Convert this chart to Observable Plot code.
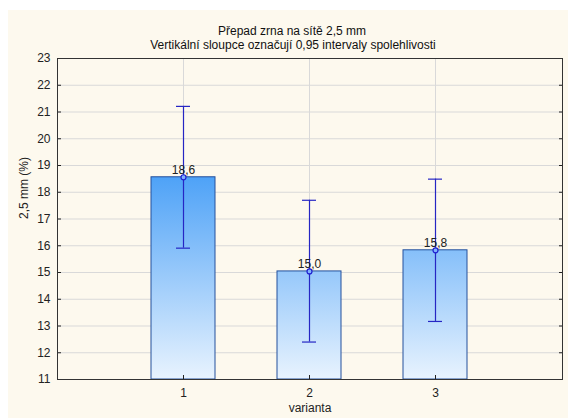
<!DOCTYPE html>
<html>
<head>
<meta charset="utf-8">
<script src="https://cdn.jsdelivr.net/npm/d3@7"></script>
<script src="https://cdn.jsdelivr.net/npm/@observablehq/plot@0.6"></script>
<style>
  html, body { margin: 0; padding: 0; background: #ffffff; }
  #wrap { position: absolute; left: 8px; top: 10px; width: 560px; height: 408px; background: #fdf9ee; }
  svg { font-family: "Liberation Sans", Arial, sans-serif; }
</style>
</head>
<body>
<div id="wrap"></div>
<script>
const categories = [1, 2, 3];
const means = [18.56, 15.04, 15.83];
const ciLow = [15.91, 12.40, 13.17];
const ciHigh = [21.21, 17.70, 18.49];
const yTicks = [11, 12, 13, 14, 15, 16, 17, 18, 19, 20, 21, 22, 23];
const titleText = "Přepad zrna na sítě 2,5 mm";
const subtitleText = "Vertikální sloupce označují 0,95 intervaly spolehlivosti";
const yLabel = "2,5 mm (%)";
const xLabel = "varianta";

const data = categories.map((c, i) => ({
  cat: c, mean: means[i], lo: ciLow[i], hi: ciHigh[i], base: yTicks[0]
}));
const fmt = v => d3.format(".1f")(v).replace(".", ",");

const axisColor = "#222";
const errColor = "#2626c4";
const fs = 12;

const plot = Plot.plot({
  width: 560,
  height: 408,
  marginLeft: 49,
  marginRight: 6,
  marginTop: 48,
  marginBottom: 39,
  style: { background: "transparent", fontFamily: "'Liberation Sans', Arial, sans-serif", fontSize: fs + "px", color: "#222" },
  x: { type: "band", domain: categories, paddingInner: 0.49, paddingOuter: 0.745, label: null },
  y: { domain: [yTicks[0], yTicks[yTicks.length - 1]], ticks: yTicks, label: null },
  marks: [
    Plot.gridY(yTicks, { stroke: "#d9d9d9", strokeOpacity: 1 }),
    Plot.gridX(categories, { stroke: "#d9d9d9", strokeOpacity: 1 }),
    Plot.barY(data, { x: "cat", y1: "base", y2: "mean", fill: "url(#barGrad)", stroke: "#24509c", strokeWidth: 1 }),
    Plot.ruleX(data, { x: "cat", y1: "lo", y2: "hi", stroke: errColor, strokeWidth: 1.2 }),
    Plot.tickY(data, { x: "cat", y: "hi", stroke: errColor, strokeWidth: 1.2, insetLeft: 25, insetRight: 25 }),
    Plot.tickY(data, { x: "cat", y: "lo", stroke: errColor, strokeWidth: 1.2, insetLeft: 25, insetRight: 25 }),
    Plot.dot(data, { x: "cat", y: "mean", r: 2.5, stroke: "#1f1fd0", fill: "#7fb2ff", strokeWidth: 1.2 }),
    Plot.text(data, { x: "cat", y: "mean", text: d => fmt(d.mean), dy: -7, fill: "#222", fontSize: fs }),
    Plot.axisY(yTicks, { anchor: "left", tickSize: -4, tickPadding: 11, stroke: axisColor, fill: "#222", label: null, fontSize: fs }),
    Plot.axisY(yTicks, { anchor: "right", tickSize: -4, tickFormat: () => "", stroke: axisColor, label: null }),
    Plot.axisX(categories, { anchor: "bottom", tickSize: -4, tickPadding: 13, stroke: axisColor, fill: "#222", label: null, fontSize: fs }),
    Plot.frame({ stroke: "#333", strokeWidth: 1 }),
    Plot.text([titleText], { frameAnchor: "top", dx: -18, dy: -32, fill: "#111", fontSize: fs }),
    Plot.text([subtitleText], { frameAnchor: "top", dx: -17, dy: -18, fill: "#111", fontSize: fs }),
    Plot.text([yLabel], { frameAnchor: "left", rotate: -90, dx: -33, fill: "#222", fontSize: fs }),
    Plot.text([xLabel], { frameAnchor: "bottom", dy: 32, fill: "#222", fontSize: fs })
  ]
});

// gradient shared across bars (user space), from the tallest bar top to the baseline
const ys = plot.scale("y");
const svg = d3.select(plot.tagName === "svg" ? plot : plot.querySelector("svg"));
const defs = svg.insert("defs", ":first-child");
const grad = defs.append("linearGradient")
  .attr("id", "barGrad")
  .attr("gradientUnits", "userSpaceOnUse")
  .attr("x1", 0).attr("x2", 0)
  .attr("y1", ys.apply(d3.max(means)))
  .attr("y2", ys.apply(yTicks[0]));
grad.append("stop").attr("offset", "0%").attr("stop-color", "#4ea2f7");
grad.append("stop").attr("offset", "100%").attr("stop-color", "#e8f3fe");

document.getElementById("wrap").appendChild(plot);
</script>
</body>
</html>
